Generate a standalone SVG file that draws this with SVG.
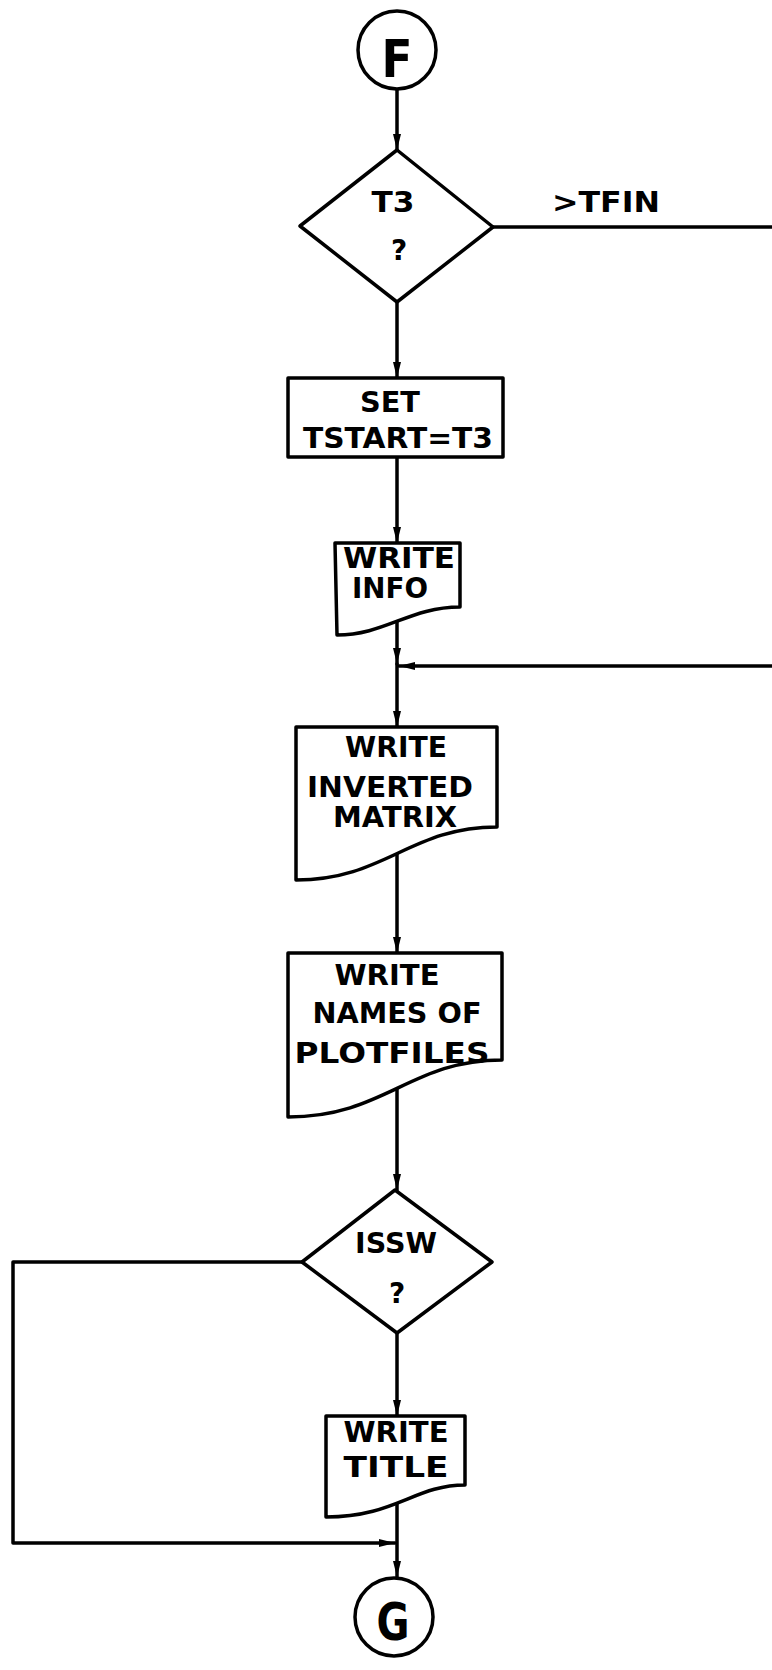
<svg xmlns="http://www.w3.org/2000/svg" width="772" height="1670" viewBox="0 0 772 1670">
<style>
.s{fill:none;stroke:#000;stroke-width:3.5;stroke-linejoin:round;stroke-linecap:round}
.n{fill:#fff;stroke:#000;stroke-width:3.5;stroke-linejoin:round}
.t{font-family:"DejaVu Sans",sans-serif;font-weight:bold;font-size:28px;text-anchor:middle;fill:#000}
.big{font-family:"DejaVu Sans",sans-serif;font-weight:bold;font-size:52px;text-anchor:middle;fill:#000}
</style>
<defs>
<marker id="a" viewBox="0 0 16 8" refX="16" refY="4" markerWidth="16" markerHeight="8" markerUnits="userSpaceOnUse" orient="auto">
<path d="M0,0 L16,4 L0,8 Z" fill="#000"/>
</marker>
</defs>
<g id="connectors">
<path class="s" d="M397,90 V150" marker-end="url(#a)"/>
<path class="s" d="M397,302 V378" marker-end="url(#a)"/>
<path class="s" d="M397,457 V543" marker-end="url(#a)"/>
<path class="s" d="M397,612 V664" marker-end="url(#a)"/>
<path class="s" d="M397,664 V727" marker-end="url(#a)"/>
<path class="s" d="M493,227 H772"/>
<path class="s" d="M772,666 H399" marker-end="url(#a)"/>
<path class="s" d="M397,840 V953" marker-end="url(#a)"/>
<path class="s" d="M397,1085 V1190" marker-end="url(#a)"/>
<path class="s" d="M397,1333 V1416" marker-end="url(#a)"/>
<path class="s" d="M302,1262 H13 V1543 H395" marker-end="url(#a)"/>
<path class="s" d="M397,1500 V1577" marker-end="url(#a)"/>
<text class="t" x="606" y="212" textLength="108" lengthAdjust="spacingAndGlyphs">&gt;TFIN</text>
</g>
<g id="F">
<circle class="n" cx="397" cy="50" r="39"/>
<text class="big" x="397" y="77" textLength="31" lengthAdjust="spacingAndGlyphs">F</text>
</g>
<g id="T3">
<path class="n" d="M397,150 L493,227 L397,302 L300,226 Z"/>
<text class="t" x="393" y="212" textLength="43" lengthAdjust="spacingAndGlyphs">T3</text>
<text class="t" x="399" y="260">?</text>
</g>
<g id="SET">
<rect class="n" x="288" y="378" width="215" height="79"/>
<text class="t" x="390" y="412" textLength="60" lengthAdjust="spacingAndGlyphs">SET</text>
<text class="t" x="398" y="448" textLength="190" lengthAdjust="spacingAndGlyphs">TSTART=T3</text>
</g>
<g id="INFO">
<path class="n" d="M335,543 H460 V607 C410,607 385,635 337,635 Z"/>
<text class="t" x="399" y="568" textLength="112" lengthAdjust="spacingAndGlyphs">WRITE</text>
<text class="t" x="390" y="598" textLength="76" lengthAdjust="spacingAndGlyphs">INFO</text>
</g>
<g id="MATRIX">
<path class="n" d="M296,727 H497 V827 C410,827 385,880 296,880 Z"/>
<text class="t" x="396" y="757" textLength="102" lengthAdjust="spacingAndGlyphs">WRITE</text>
<text class="t" x="390" y="797" textLength="166" lengthAdjust="spacingAndGlyphs">INVERTED</text>
<text class="t" x="395" y="827" textLength="124" lengthAdjust="spacingAndGlyphs">MATRIX</text>
</g>
<g id="NAMES">
<path class="n" d="M288,953 H502 V1060 C410,1060 385,1117 288,1117 Z"/>
<text class="t" x="387" y="985" textLength="105" lengthAdjust="spacingAndGlyphs">WRITE</text>
<text class="t" x="397" y="1023" textLength="169" lengthAdjust="spacingAndGlyphs">NAMES OF</text>
<text class="t" x="392" y="1063" textLength="195" lengthAdjust="spacingAndGlyphs">PLOTFILES</text>
</g>
<g id="ISSW">
<path class="n" d="M395,1190 L492,1262 L397,1333 L302,1262 Z"/>
<text class="t" x="396" y="1253" textLength="82" lengthAdjust="spacingAndGlyphs">ISSW</text>
<text class="t" x="397" y="1303">?</text>
</g>
<g id="TITLE">
<path class="n" d="M326,1416 H465 V1485 C415,1485 395,1517 326,1517 Z"/>
<text class="t" x="396" y="1442" textLength="105" lengthAdjust="spacingAndGlyphs">WRITE</text>
<text class="t" x="396" y="1477" textLength="105" lengthAdjust="spacingAndGlyphs">TITLE</text>
</g>
<g id="G">
<circle class="n" cx="394" cy="1617" r="39"/>
<text class="big" x="393" y="1640" textLength="33" lengthAdjust="spacingAndGlyphs">G</text>
</g>
</svg>
